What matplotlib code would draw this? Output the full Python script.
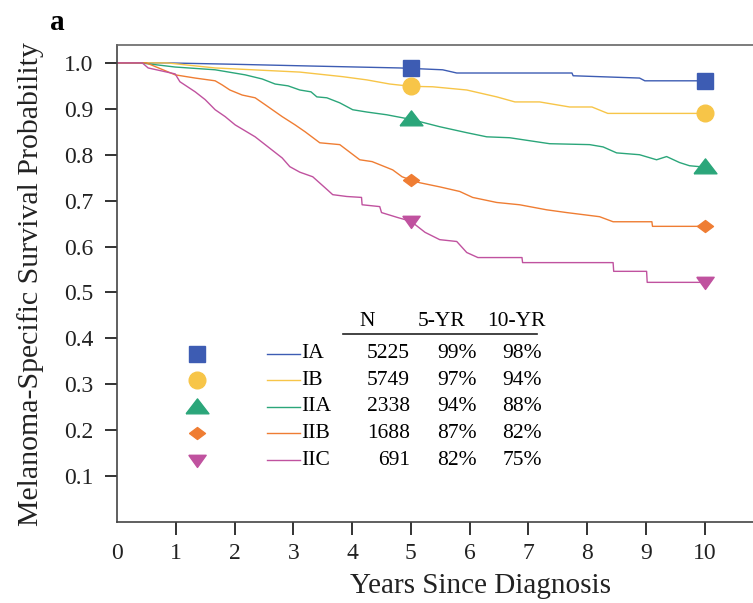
import numpy as np
import matplotlib
matplotlib.use('Agg')
import matplotlib.pyplot as plt

plt.rcParams['font.family'] = ['Liberation Serif', 'DejaVu Serif']

# curve data (years, survival probability)
stages = ['IA', 'IB', 'IIA', 'IIB', 'IIC']
n_patients = [5225, 5749, 2338, 1688, 691]
surv_5yr = ['99%', '97%', '94%', '87%', '82%']
surv_10yr = ['98%', '94%', '88%', '82%', '75%']

ia_x = [0, 0.85, 2.0, 3.37, 4.81, 5.0, 5.54, 5.78, 7.74, 7.76, 8.89, 8.98, 10.0]
ia_y = [1.0, 1.0, 0.997, 0.993, 0.989, 0.988, 0.985, 0.978, 0.978, 0.972,
        0.967, 0.961, 0.961]

ib_x = [0, 0.85, 1.67, 3.11, 3.84, 4.25, 4.64, 5.0, 5.37, 5.95, 6.46, 6.77,
        7.19, 7.70, 8.08, 8.35, 10.0]
ib_y = [1.0, 1.0, 0.989, 0.98, 0.970, 0.963, 0.954, 0.949, 0.948, 0.941,
        0.926, 0.915, 0.915, 0.904, 0.904, 0.890, 0.890]

iia_x = [0, 0.4, 0.99, 1.67, 2.18, 2.47, 2.69, 2.91, 3.11, 3.3, 3.4, 3.57,
         3.79, 4.01, 4.25, 4.59, 5.0, 5.49, 5.95, 6.29, 6.68, 7.36, 8.04,
         8.27, 8.50, 8.89, 9.18, 9.35, 9.57, 9.74, 10.0]
iia_y = [1.0, 1.0, 0.991, 0.985, 0.974, 0.965, 0.954, 0.950, 0.941, 0.937,
         0.926, 0.924, 0.913, 0.898, 0.893, 0.887, 0.877, 0.861, 0.848, 0.839,
         0.837, 0.824, 0.822, 0.817, 0.804, 0.800, 0.789, 0.796, 0.783,
         0.776, 0.773]

iib_x = [0, 0.5, 0.99, 1.33, 1.67, 1.79, 1.92, 2.13, 2.35, 2.52, 2.81, 3.03,
         3.2, 3.45, 3.79, 4.13, 4.34, 4.69, 4.85, 5.0, 5.15, 5.49, 5.83, 6.05,
         6.46, 6.85, 7.31, 7.65, 8.21, 8.44, 9.10, 9.11, 10.0]
iib_y = [1.0, 1.0, 0.974, 0.967, 0.961, 0.952, 0.941, 0.930, 0.924, 0.909,
         0.883, 0.865, 0.850, 0.826, 0.822, 0.789, 0.785, 0.767, 0.752, 0.745,
         0.739, 0.730, 0.720, 0.707, 0.696, 0.691, 0.680, 0.674, 0.665, 0.654,
         0.654, 0.644, 0.644]

iic_x = [0, 0.43, 0.53, 0.99, 1.07, 1.33, 1.50, 1.67, 1.84, 2.01, 2.35, 2.57,
         2.81, 2.94, 3.11, 3.33, 3.54, 3.67, 3.91, 4.16, 4.17, 4.47, 4.50,
         4.78, 5.0, 5.24, 5.49, 5.78, 5.95, 6.14, 6.89, 6.90, 8.44, 8.45,
         9.01, 9.02, 10.0]
iic_y = [1.0, 1.0, 0.989, 0.976, 0.959, 0.937, 0.920, 0.898, 0.883, 0.865,
         0.839, 0.817, 0.793, 0.774, 0.762, 0.752, 0.728, 0.713, 0.709, 0.707,
         0.691, 0.687, 0.674, 0.663, 0.655, 0.631, 0.615, 0.611, 0.587, 0.576,
         0.576, 0.565, 0.565, 0.546, 0.546, 0.522, 0.522]

curves = [(ia_x, ia_y), (ib_x, ib_y), (iia_x, iia_y), (iib_x, iib_y), (iic_x, iic_y)]
colors = ['#3d5cb3', '#f7c548', '#2ba67a', '#ef7d33', '#c0529f']

# custom marker shapes (source picture is a little wider than tall)
tri_up = [(-1, -0.55), (1, -0.55), (0, 0.75), (-1, -0.55)]
tri_down = [(-1, 0.6), (1, 0.6), (0, -0.8), (-1, 0.6)]
diamond = [(-1, 0), (0, 0.75), (1, 0), (0, -0.75), (-1, 0)]
markers = ['s', 'o', tri_up, diamond, tri_down]
msizes = [11.5, 12, 16.5, 11.5, 12.5]

fig = plt.figure(figsize=(7.53, 6.03), dpi=100)
ax = fig.add_axes([117 / 753, 81 / 603, 636 / 753, 477 / 603])

for (cx, cy), col, mk, ms in zip(curves, colors, markers, msizes):
    ax.plot(cx, cy, color=col, lw=1.0, zorder=2)
    mx = np.array([5.0, 10.0])
    my = np.interp(mx, cx, cy)
    ax.plot(mx, my, ls='none', marker=mk, ms=ms, color=col, mec=col, zorder=3)

ax.set_xlim(0, 10.82)
ax.set_ylim(0, 1.039)
ax.set_xticks(range(0, 11))
ax.set_xticklabels([str(i) for i in range(0, 11)])
ax.set_yticks(np.arange(1, 11) / 10)
ax.set_yticklabels(['%.1f' % (i / 10) for i in range(1, 11)])
ax.xaxis.get_major_ticks()[0].tick1line.set_visible(False)
ax.tick_params(axis='both', direction='out', length=9, width=1.4,
               colors='#333333', labelsize=17, labelcolor='#222222')
ax.tick_params(axis='y', pad=8)
ax.tick_params(axis='x', pad=6)

for side in ['left', 'bottom', 'top']:
    ax.spines[side].set_color('#444444')
    ax.spines[side].set_linewidth(1.2)
ax.spines['top'].set_color('#666666')
ax.spines['right'].set_visible(False)

ax.set_xlabel('Years Since Diagnosis', fontsize=21, color='#222222')
ax.xaxis.set_label_coords(0.571, -0.106)
ax.set_ylabel('Melanoma-Specific Survival Probability', fontsize=21.5, color='#222222')
ax.yaxis.set_label_coords(-0.115, 0.5)

fig.text(50 / 753, 1 - 22 / 603, 'a', fontsize=21, fontweight='bold', va='center')

# table legend
row_y = [0.367, 0.309, 0.251, 0.193, 0.134]
hdr_y = 0.437
tsize = 15.5
ax.text(4.25, hdr_y, 'N', ha='center', va='center', fontsize=tsize)
ax.text(5.53, hdr_y, '5-YR', ha='center', va='center', fontsize=tsize)
ax.text(6.80, hdr_y, '10-YR', ha='center', va='center', fontsize=tsize)
ax.plot([3.84, 7.14], [0.409, 0.409], color='#222222', lw=1.2)
for i, st in enumerate(stages):
    yy = row_y[i]
    ax.plot([1.36], [yy], ls='none', marker=markers[i], ms=msizes[i],
            color=colors[i], mec=colors[i])
    ax.plot([2.55, 3.12], [yy, yy], color=colors[i], lw=1.0)
    ax.text(3.14, yy, st, ha='left', va='center', fontsize=tsize)
    ax.text(4.98, yy, str(n_patients[i]), ha='right', va='center', fontsize=tsize)
    ax.text(6.12, yy, surv_5yr[i], ha='right', va='center', fontsize=tsize)
    ax.text(7.23, yy, surv_10yr[i], ha='right', va='center', fontsize=tsize)

fig.savefig('out.png', dpi=100)
plt.close(fig)
